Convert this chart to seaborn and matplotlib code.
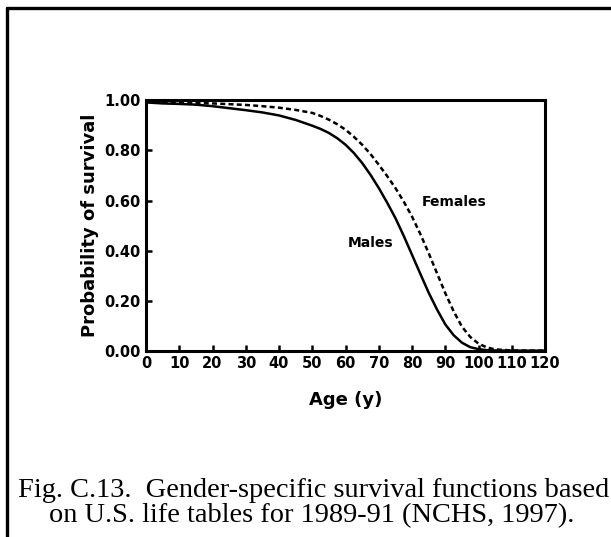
import numpy as np
import pandas as pd
import matplotlib
matplotlib.use("Agg")
import matplotlib.pyplot as plt
from matplotlib.lines import Line2D
import seaborn as sns

# ---- data ----
ages = [0, 5, 10, 15, 20, 25, 30, 35, 40, 45, 50, 52.5, 55, 57.5, 60, 62.5, 65, 67.5,
        70, 72.5, 75, 77.5, 80, 82.5, 85, 87.5, 90, 92.5, 95, 97.5, 100, 102.5, 105,
        110, 115, 120]
males = [0.992, 0.988, 0.986, 0.983, 0.977, 0.969, 0.961, 0.952, 0.940, 0.922, 0.899,
         0.886, 0.870, 0.849, 0.823, 0.790, 0.750, 0.703, 0.650, 0.592, 0.530, 0.459,
         0.383, 0.307, 0.232, 0.165, 0.105, 0.062, 0.032, 0.014, 0.006, 0.002, 0.0008,
         0.0, 0.0, 0.0]
females = [0.994, 0.992, 0.991, 0.990, 0.988, 0.985, 0.982, 0.977, 0.971, 0.962, 0.950,
           0.938, 0.923, 0.905, 0.883, 0.855, 0.823, 0.786, 0.743, 0.698, 0.650, 0.596,
           0.536, 0.466, 0.390, 0.310, 0.230, 0.158, 0.096, 0.055, 0.028, 0.013, 0.005,
           0.0008, 0.0, 0.0]
series_names = ["Males", "Females"]
x_ticks = list(range(0, 121, 10))
y_ticks = [0.0, 0.2, 0.4, 0.6, 0.8, 1.0]
x_label = "Age (y)"
y_label = "Probability of survival"
caption_lines = ["Fig. C.13.  Gender-specific survival functions based",
                 "on U.S. life tables for 1989-91 (NCHS, 1997)."]

df = pd.DataFrame({
    "age": ages * 2,
    "p": males + females,
    "sex": [series_names[0]] * len(ages) + [series_names[1]] * len(ages),
})

sns.set_theme(style="ticks")
plt.rcParams["font.family"] = ["DejaVu Sans"]
plt.rcParams["font.weight"] = "bold"
plt.rcParams["text.color"] = "black"
plt.rcParams["axes.labelcolor"] = "black"
plt.rcParams["xtick.color"] = "black"
plt.rcParams["ytick.color"] = "black"

fig = plt.figure(figsize=(6.11, 5.37), dpi=100)
ax = fig.add_axes([0.239, 0.347, 0.653, 0.466])

sns.lineplot(data=df, x="age", y="p", style="sex", hue="sex",
             palette={"Males": "black", "Females": "black"},
             dashes={"Males": "", "Females": (2.0, 1.3)},
             linewidth=1.8, legend=False, ax=ax)

ax.set_xlim(0, 120)
ax.set_ylim(0, 1.0)
ax.set_xticks(x_ticks)
ax.set_yticks(y_ticks)
ax.set_xticklabels([str(t) for t in x_ticks], fontsize=10.5, fontweight="bold")
ax.set_yticklabels([f"{t:.2f}" for t in y_ticks], fontsize=10.5, fontweight="bold")
ax.tick_params(direction="in", length=4, width=1.8, colors="black", pad=4)
for s in ax.spines.values():
    s.set_visible(True)
    s.set_linewidth(2.2)
    s.set_color("black")
ax.set_xlabel(x_label, fontsize=13, fontweight="bold", labelpad=14, color="black")
ax.set_ylabel(y_label, fontsize=13, fontweight="bold", labelpad=4, color="black")

ax.text(82.8, 0.595, "Females", fontsize=10, fontweight="bold", ha="left", va="center",
        color="black")
ax.text(60.8, 0.43, "Males", fontsize=10, fontweight="bold", ha="left", va="center",
        color="black")

# caption
fig.text(0.514, 1 - 497 / 537, caption_lines[0], family="Liberation Serif",
         fontsize=20.4, fontweight="normal", ha="center", va="baseline", color="black")
fig.text(0.510, 1 - 522 / 537, caption_lines[1], family="Liberation Serif",
         fontsize=20.4, fontweight="normal", ha="center", va="baseline", color="black")

# page border (top and left edges visible)
fig.add_artist(Line2D([6.5 / 611, 1.0], [1 - 8 / 537, 1 - 8 / 537],
                      transform=fig.transFigure, color="black", lw=2.4))
fig.add_artist(Line2D([6.5 / 611, 6.5 / 611], [0, 1 - 8 / 537],
                      transform=fig.transFigure, color="black", lw=2.4))

fig.savefig("out.png", dpi=100, facecolor="white")
